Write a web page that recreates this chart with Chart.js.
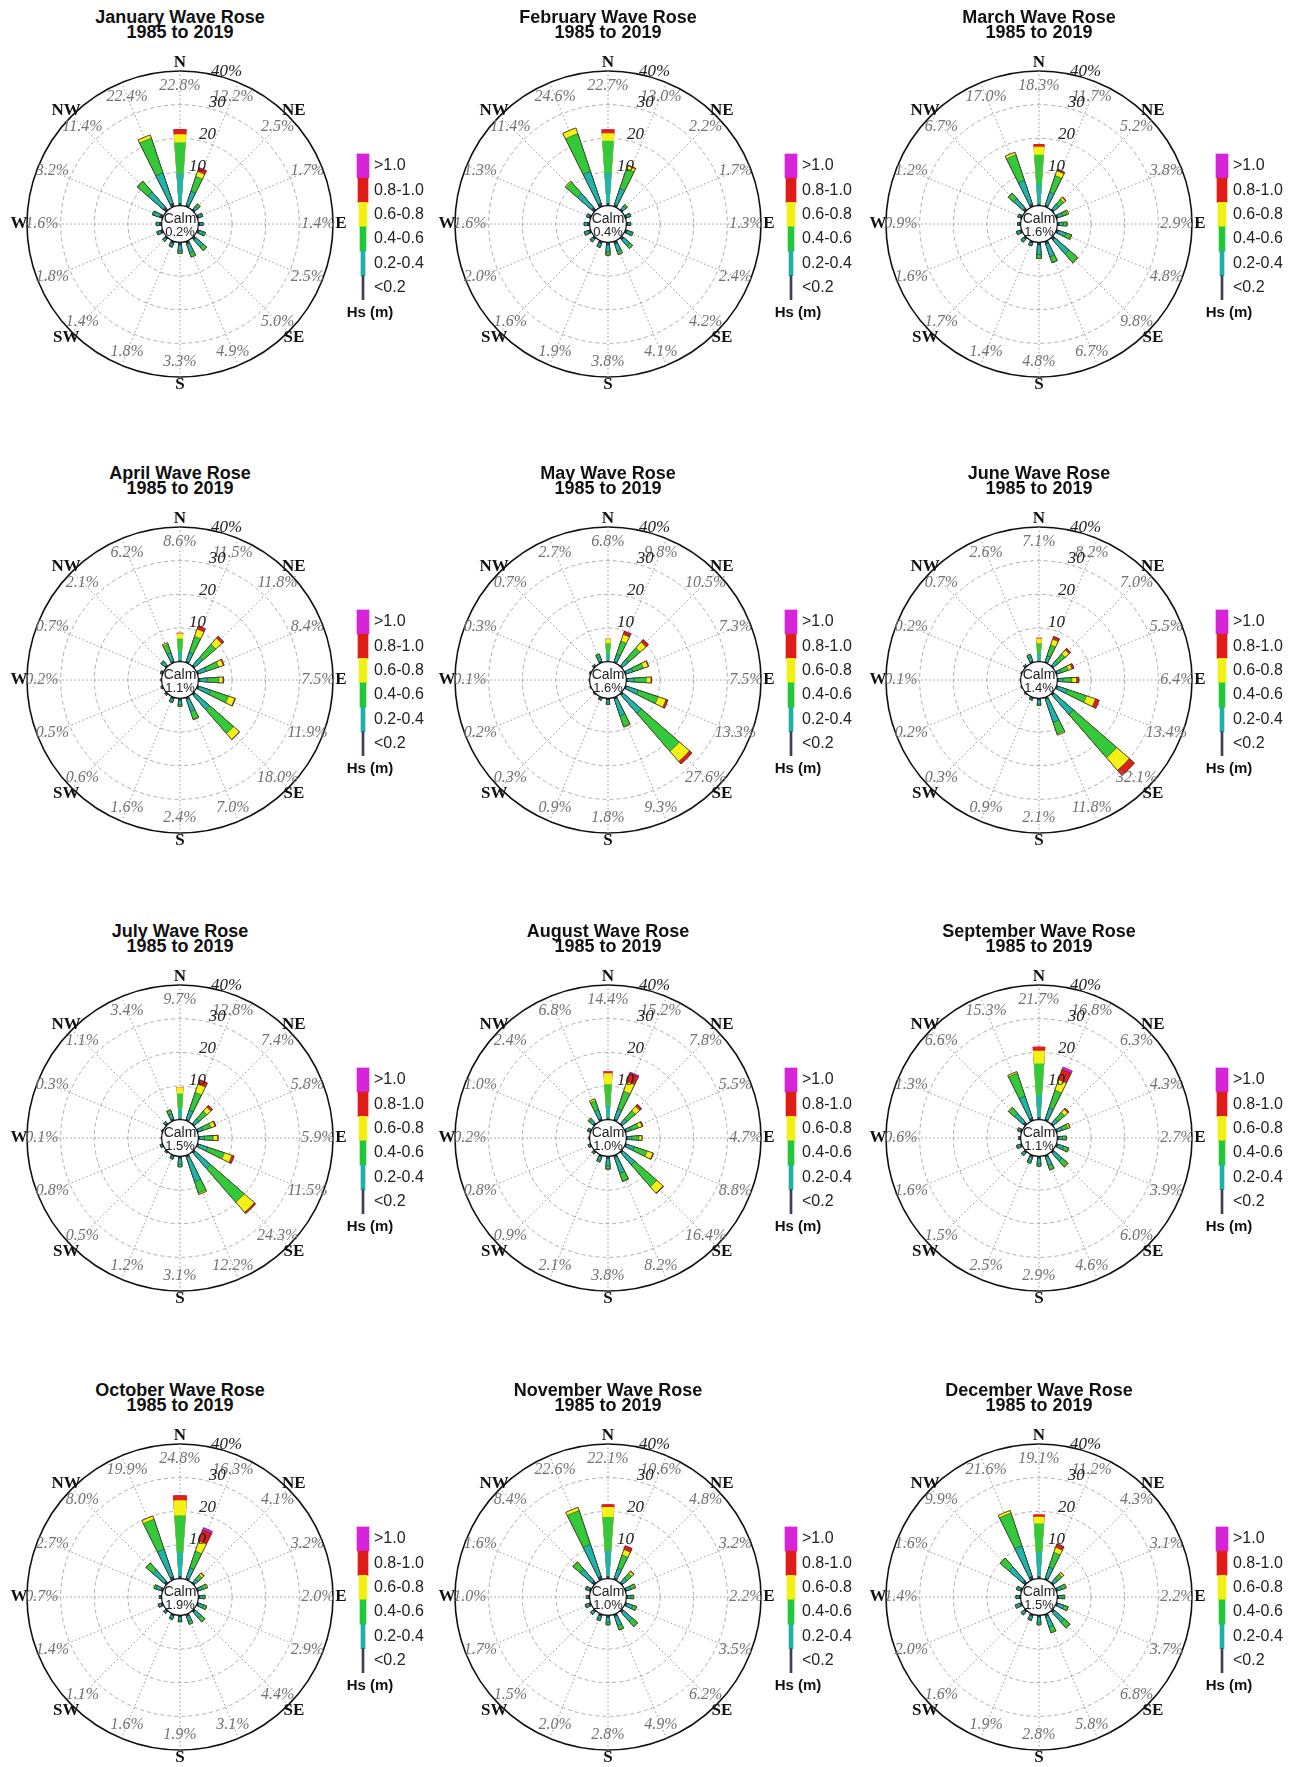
<!DOCTYPE html>
<html>
<head>
<meta charset="utf-8">
<script src="https://cdn.jsdelivr.net/npm/chart.js@4.4.1/dist/chart.umd.min.js"></script>
<style>
html,body{margin:0;padding:0;background:#fff;}
#page{position:relative;width:1299px;height:1767px;overflow:hidden;background:#fff;}
.panel{position:absolute;width:430px;height:456px;}
.title{position:absolute;left:0;top:10px;width:360px;text-align:center;font-family:"Liberation Sans",Arial,sans-serif;font-weight:bold;font-size:18px;line-height:15px;color:#111;}
.rose{position:absolute;left:0;top:45px;}
.cbar{position:absolute;left:345px;top:140px;}
</style>
</head>
<body>
<div id="page"></div>
<script>
// ---------------- data ----------------
const MONTHS = ['January','February','March','April','May','June','July','August','September','October','November','December'];
const PERIOD = '1985 to 2019';
const DIRECTIONS = ['N','NNE','NE','ENE','E','ESE','SE','SSE','S','SSW','SW','WSW','W','WNW','NW','NNW'];
const COMPASS = ['N','','NE','','E','','SE','','S','','SW','','W','','NW',''];
const HS_CLASSES = ['<0.2','0.2-0.4','0.4-0.6','0.6-0.8','0.8-1.0','>1.0'];
const HS_TITLE = 'Hs (m)';
const RING_TICKS = [10,20,30,40];
const CALM = [0.2,0.4,1.6,1.1,1.6,1.4,1.5,1.0,1.1,1.9,1.0,1.5];

// frequency (%) per Hs class (rows: <0.2 ... >1.0), per direction (N ... NNW)
const JAN_HS = [
 [0.8,0.6,0.5,0.5,0.5,0.6,0.8,0.8,0.8,0.7,0.6,0.7,0.7,0.9,1.2,1.0],
 [8.8,4.2,1.1,0.8,0.7,1.3,2.8,2.8,1.8,0.9,0.7,0.9,0.8,1.8,6.0,9.5],
 [9.2,4.6,0.7,0.4,0.2,0.6,1.4,1.3,0.7,0.2,0.1,0.2,0.1,0.5,4.0,10.9],
 [2.4,1.6,0.2,0,0,0,0,0,0,0,0,0,0,0,0.2,1.0],
 [1.6,1.2,0,0,0,0,0,0,0,0,0,0,0,0,0,0],
 [0,0,0,0,0,0,0,0,0,0,0,0,0,0,0,0]
];
const FEB_HS = [
 [0.8,0.6,0.5,0.5,0.5,0.6,0.8,0.8,0.8,0.7,0.6,0.7,0.7,0.6,1.0,1.0],
 [9.0,5.0,1.0,0.8,0.6,1.2,2.3,2.3,2.1,0.9,0.8,1.0,0.8,0.6,5.6,10.0],
 [9.5,6.2,0.6,0.4,0.2,0.6,1.1,1.0,0.9,0.3,0.2,0.3,0.1,0.1,4.4,11.8],
 [2.2,1.0,0.1,0,0,0,0,0,0,0,0,0,0,0,0.4,1.8],
 [1.2,0.2,0,0,0,0,0,0,0,0,0,0,0,0,0,0],
 [0,0,0,0,0,0,0,0,0,0,0,0,0,0,0,0]
];
const MAR_HS = [
 [0.6,0.5,0.5,0.5,0.5,0.6,0.9,0.8,0.8,0.6,0.6,0.6,0.4,0.5,0.8,0.8],
 [6.0,4.0,1.8,1.5,1.3,2.4,5.5,4.0,2.8,0.6,0.8,0.8,0.4,0.5,3.8,7.4],
 [8.5,5.2,2.0,1.4,0.9,1.6,3.2,1.8,1.2,0.2,0.3,0.2,0.1,0.2,2.0,8.0],
 [2.4,1.5,0.7,0.4,0.2,0.2,0.2,0.1,0,0,0,0,0,0,0.1,0.8],
 [0.8,0.5,0.2,0,0,0,0,0,0,0,0,0,0,0,0,0],
 [0,0,0,0,0,0,0,0,0,0,0,0,0,0,0,0]
];
const APR_HS = [
 [0.4,0.4,0.4,0.4,0.4,0.5,0.6,0.6,0.6,0.5,0.3,0.2,0.1,0.3,0.5,0.5],
 [2.5,2.8,3.0,2.4,2.2,3.6,5.6,3.8,1.3,0.8,0.3,0.3,0.1,0.3,1.1,2.6],
 [4.0,5.0,5.2,3.8,3.5,5.6,9.4,2.4,0.5,0.3,0,0,0,0.1,0.5,2.6],
 [1.5,2.3,2.4,1.5,1.2,2.0,2.3,0.2,0,0,0,0,0,0,0,0.5],
 [0.2,1.0,0.8,0.3,0.2,0.2,0.1,0,0,0,0,0,0,0,0,0],
 [0,0,0,0,0,0,0,0,0,0,0,0,0,0,0,0]
];
const MAY_HS = [
 [0.3,0.3,0.3,0.3,0.3,0.4,0.6,0.6,0.5,0.3,0.1,0.1,0.1,0.1,0.3,0.5],
 [2.0,2.2,2.4,2.0,2.1,3.6,7.0,5.2,0.9,0.4,0.2,0.1,0,0.2,0.3,1.3],
 [3.2,4.2,4.5,3.3,3.5,6.2,15.0,3.2,0.4,0.2,0,0,0,0,0.1,0.8],
 [1.2,2.1,2.3,1.5,1.4,2.5,4.0,0.3,0,0,0,0,0,0,0,0.1],
 [0.1,1.0,1.0,0.2,0.2,0.6,1.0,0,0,0,0,0,0,0,0,0],
 [0,0,0,0,0,0,0,0,0,0,0,0,0,0,0,0]
];
const JUN_HS = [
 [0.3,0.3,0.3,0.3,0.3,0.4,0.6,0.6,0.5,0.3,0.1,0.1,0.1,0.1,0.3,0.5],
 [2.0,1.8,1.6,1.2,1.4,3.0,7.5,7.2,1.2,0.4,0.2,0.1,0,0.1,0.3,1.3],
 [3.2,3.4,2.9,2.2,2.6,6.0,17.0,3.6,0.4,0.2,0,0,0,0,0.1,0.7],
 [1.4,1.8,1.6,1.2,1.4,2.8,5.0,0.4,0,0,0,0,0,0,0,0.1],
 [0.2,0.9,0.6,0.6,0.7,1.2,2.0,0,0,0,0,0,0,0,0,0],
 [0,0,0,0,0,0,0,0,0,0,0,0,0,0,0,0]
];
const JUL_HS = [
 [0.4,0.4,0.3,0.3,0.3,0.4,0.6,0.6,0.6,0.4,0.2,0.3,0.1,0.1,0.4,0.6],
 [2.6,2.8,1.8,1.4,1.5,2.8,6.0,7.6,1.8,0.6,0.3,0.4,0,0.2,0.5,1.6],
 [4.8,5.6,3.0,2.5,2.6,5.2,13.2,3.6,0.7,0.2,0,0.1,0,0,0.2,1.0],
 [1.8,2.6,1.6,1.3,1.3,2.4,4.0,0.4,0,0,0,0,0,0,0,0.2],
 [0.1,1.4,0.7,0.3,0.2,0.7,0.5,0,0,0,0,0,0,0,0,0],
 [0,0,0,0,0,0,0,0,0,0,0,0,0,0,0,0]
];
const AUG_HS = [
 [0.5,0.5,0.3,0.3,0.3,0.4,0.5,0.6,0.6,0.5,0.3,0.3,0.1,0.3,0.5,0.6],
 [3.6,3.2,1.8,1.4,1.3,2.4,4.6,5.0,2.2,1.1,0.4,0.4,0.1,0.5,1.2,2.8],
 [6.4,5.5,3.2,2.3,2.1,4.0,8.6,2.4,0.9,0.5,0.2,0.1,0,0.2,0.6,2.8],
 [3.3,3.0,1.7,1.2,0.9,1.8,2.5,0.2,0.1,0,0,0,0,0,0.1,0.6],
 [0.6,2.6,0.8,0.3,0.1,0.2,0.2,0,0,0,0,0,0,0,0,0],
 [0,0.4,0,0,0,0,0,0,0,0,0,0,0,0,0,0]
];
const SEP_HS = [
 [0.7,0.5,0.4,0.4,0.4,0.5,0.6,0.6,0.6,0.6,0.5,0.5,0.3,0.5,0.8,0.8],
 [6.5,3.5,1.6,1.4,1.1,1.8,3.0,2.6,1.6,1.4,0.8,0.8,0.3,0.6,3.4,6.8],
 [9.5,5.5,2.6,1.8,1.0,1.4,2.2,1.3,0.7,0.5,0.2,0.3,0,0.2,2.2,7.2],
 [3.8,3.3,1.3,0.6,0.2,0.2,0.2,0.1,0,0,0,0,0,0,0.2,0.5],
 [1.2,3.2,0.4,0.1,0,0,0,0,0,0,0,0,0,0,0,0],
 [0,0.8,0,0,0,0,0,0,0,0,0,0,0,0,0,0]
];
const OCT_HS = [
 [0.8,0.5,0.4,0.4,0.4,0.5,0.6,0.6,0.5,0.5,0.4,0.5,0.3,0.6,0.8,0.9],
 [7.0,3.2,1.2,1.2,0.9,1.4,2.3,1.7,1.0,0.8,0.5,0.7,0.3,1.5,4.4,8.6],
 [11.0,5.2,1.6,1.2,0.6,0.9,1.4,0.8,0.4,0.3,0.2,0.2,0.1,0.6,2.6,9.4],
 [4.5,3.2,0.7,0.4,0.1,0.1,0.1,0,0,0,0,0,0,0,0.2,1.0],
 [1.5,3.4,0.2,0,0,0,0,0,0,0,0,0,0,0,0,0],
 [0,0.8,0,0,0,0,0,0,0,0,0,0,0,0,0,0]
];
const NOV_HS = [
 [0.8,0.5,0.4,0.4,0.4,0.5,0.7,0.7,0.6,0.6,0.5,0.6,0.4,0.5,0.9,1.0],
 [7.5,3.0,1.6,1.3,1.0,1.8,3.4,2.8,1.6,1.0,0.8,0.8,0.5,0.8,4.6,10.0],
 [10.0,4.2,1.9,1.2,0.7,1.1,2.0,1.3,0.6,0.4,0.2,0.3,0.1,0.3,2.7,10.6],
 [3.0,1.7,0.7,0.3,0.1,0.1,0.1,0.1,0,0,0,0,0,0,0.2,1.0],
 [0.8,1.2,0.2,0,0,0,0,0,0,0,0,0,0,0,0,0],
 [0,0,0,0,0,0,0,0,0,0,0,0,0,0,0,0]
];
const DEC_HS = [
 [0.8,0.5,0.4,0.4,0.4,0.5,0.7,0.7,0.6,0.6,0.5,0.6,0.5,0.5,1.0,1.0],
 [7.0,3.4,1.5,1.3,1.0,1.9,3.8,3.3,1.6,1.0,0.8,1.0,0.7,0.8,5.4,9.6],
 [8.6,4.6,1.7,1.1,0.7,1.2,2.2,1.7,0.6,0.3,0.3,0.4,0.2,0.3,3.3,10.2],
 [2.0,1.6,0.6,0.3,0.1,0.1,0.1,0.1,0,0,0,0,0,0,0.2,0.8],
 [0.7,1.1,0.1,0,0,0,0,0,0,0,0,0,0,0,0,0],
 [0,0,0,0,0,0,0,0,0,0,0,0,0,0,0,0]
];
const MONTH_HS = [JAN_HS,FEB_HS,MAR_HS,APR_HS,MAY_HS,JUN_HS,JUL_HS,AUG_HS,SEP_HS,OCT_HS,NOV_HS,DEC_HS];

// ---------------- styles / layout ----------------
const ROSE_COLORS = ['#2c3d5e','#22b4aa','#34c93a','#f2f214','#de2118','#e61fe6'];
const CB_COLORS   = ['#3c3f55','#1fb0a8','#22c83a','#f0f014','#e01c18','#d624d8'];
const CB_THICK    = [2,4,6,8,10,12];
const PANEL_LEFT = [0,428,859];
const PANEL_TOP  = [0,456,914,1373];
const WEDGE = 8;                       // wedge width in degrees
const SECTOR = 360 / DIRECTIONS.length;
const CALM_MIN = -5.45;                // radial offset so 0% sits on the calm circle
const RING_LABEL_ANGLE = 17;           // degrees from north
const N_ELEM = 2 * DIRECTIONS.length + 1;

// element i -> direction index (-1 = gap). N is split in two halves (first and last element)
function elementDir(i){
  if (i === 0 || i === N_ELEM - 1) return 0;
  return i % 2 === 0 ? i / 2 : -1;
}
const ELEM_ANGLE = Array.from({length:N_ELEM}, (_, i) =>
  (i === 0 || i === N_ELEM - 1) ? WEDGE / 2 : (i % 2 === 0 ? WEDGE : SECTOR - WEDGE));

function cumulative(hs){
  const out = [];
  let run = DIRECTIONS.map(() => 0);
  hs.forEach(row => { run = run.map((v, d) => v + row[d]); out.push(run.slice()); });
  return out;
}
function expand(vals){
  return Array.from({length:N_ELEM}, (_, i) => { const d = elementDir(i); return d < 0 ? 0 : vals[d]; });
}

function overlayPlugin(totals, calm){
  return {
    id: 'roseOverlay',
    afterDatasetsDraw(chart){
      const s = chart.scales.r, ctx = chart.ctx;
      const R = s.drawingArea, cx = s.xCenter, cy = s.yCenter;
      ctx.save();
      ctx.textAlign = 'center';
      ctx.textBaseline = 'middle';
      // total percentage per direction
      ctx.font = 'italic 16px "Liberation Serif", "Times New Roman", serif';
      ctx.fillStyle = '#727272';
      totals.forEach((t, i) => {
        const p = s.getPointPosition(i, R - 15);
        ctx.fillText(t.toFixed(1) + '%', p.x, p.y);
      });
      // ring labels
      ctx.font = 'italic 17px "Liberation Serif", "Times New Roman", serif';
      ctx.fillStyle = '#222';
      RING_TICKS.forEach(v => {
        const p = s.getPointPosition(RING_LABEL_ANGLE / SECTOR, s.getDistanceFromCenterForValue(v) + (v === 40 ? 6 : 8));
        ctx.fillText(v === 40 ? v + '%' : String(v), p.x, p.y);
      });
      // compass letters
      ctx.font = 'bold 17px "Liberation Serif", "Times New Roman", serif';
      ctx.fillStyle = '#111';
      COMPASS.forEach((c, i) => {
        if (!c) return;
        const p = s.getPointPosition(i, R + 8);
        ctx.fillText(c, p.x, p.y);
      });
      // calm circle
      const r0 = s.getDistanceFromCenterForValue(0);
      ctx.beginPath();
      ctx.arc(cx, cy, r0, 0, Math.PI * 2);
      ctx.fillStyle = '#fff';
      ctx.fill();
      ctx.lineWidth = 1.2;
      ctx.strokeStyle = '#111';
      ctx.stroke();
      ctx.fillStyle = '#222';
      ctx.font = '14px "Liberation Sans", Arial, sans-serif';
      ctx.fillText('Calm', cx, cy - 5);
      ctx.font = '13px "Liberation Sans", Arial, sans-serif';
      ctx.fillText(calm.toFixed(1) + '%', cx, cy + 8);
      ctx.restore();
    }
  };
}

const cbTitlePlugin = {
  id: 'cbTitle',
  afterDraw(chart){
    const a = chart.chartArea, ctx = chart.ctx;
    ctx.save();
    ctx.font = 'bold 15px "Liberation Sans", Arial, sans-serif';
    ctx.fillStyle = '#111';
    ctx.textAlign = 'center';
    ctx.textBaseline = 'middle';
    ctx.fillText(HS_TITLE, (a.left + a.right) / 2 + 7, a.bottom + 13);
    ctx.restore();
  }
};

const page = document.getElementById('page');

MONTHS.forEach((name, m) => {
  const panel = document.createElement('div');
  panel.className = 'panel';
  panel.style.left = PANEL_LEFT[m % 3] + 'px';
  panel.style.top = PANEL_TOP[Math.floor(m / 3)] + 'px';
  page.appendChild(panel);

  const title = document.createElement('div');
  title.className = 'title';
  title.innerHTML = name + ' Wave Rose<br>' + PERIOD;
  panel.appendChild(title);

  const roseCanvas = document.createElement('canvas');
  roseCanvas.className = 'rose';
  roseCanvas.width = 360; roseCanvas.height = 365;
  panel.appendChild(roseCanvas);

  const cbCanvas = document.createElement('canvas');
  cbCanvas.className = 'cbar';
  cbCanvas.width = 85; cbCanvas.height = 186;
  panel.appendChild(cbCanvas);

  const hs = MONTH_HS[m];
  const cum = cumulative(hs);
  const totals = cum[cum.length - 1];

  new Chart(roseCanvas, {
    type: 'polarArea',
    data: {
      labels: DIRECTIONS,
      datasets: cum.map((vals, k) => ({
        label: HS_CLASSES[k],
        data: expand(vals),
        angle: ELEM_ANGLE,
        backgroundColor: (c) => elementDir(c.dataIndex) < 0 ? 'rgba(0,0,0,0)' : ROSE_COLORS[k],
        borderColor: 'rgba(25,25,25,0.8)',
        borderWidth: (c) => (c.dataIndex % 2 === 1 || c.dataIndex === 0 || c.dataIndex === N_ELEM - 1) ? 0 : 0.6
      }))
    },
    options: {
      responsive: false,
      animation: false,
      layout: {padding: {left: 27, right: 27, top: 26, bottom: 33}},
      plugins: {legend: {display: false}, tooltip: {enabled: false}},
      scales: {
        r: {
          min: CALM_MIN,
          max: 40,
          startAngle: 0,
          ticks: {display: false},
          afterBuildTicks: (s) => { s.ticks = RING_TICKS.map(v => ({value: v})); },
          grid: {
            circular: true,
            color: (c) => (c.tick && c.tick.value === 40) ? '#111' : '#a5a5a5',
            lineWidth: (c) => (c.tick && c.tick.value === 40) ? 1.6 : 0.9
          },
          border: {dash: (c) => (c.tick && c.tick.value === 40) ? [] : [4, 3]},
          angleLines: {display: true, color: '#8c8c8c', lineWidth: 0.9, borderDash: [1.5, 2.5]},
          pointLabels: {display: false}
        }
      }
    },
    plugins: [overlayPlugin(totals, CALM[m])]
  });

  new Chart(cbCanvas, {
    type: 'bar',
    data: {
      labels: ['Hs'],
      datasets: HS_CLASSES.map((lab, k) => ({
        label: lab,
        data: [1],
        backgroundColor: CB_COLORS[k],
        barThickness: CB_THICK[k],
        borderWidth: 0
      }))
    },
    options: {
      responsive: false,
      animation: false,
      layout: {padding: {left: 11, right: 0, top: 9, bottom: 0}},
      plugins: {legend: {display: false}, tooltip: {enabled: false}},
      scales: {
        x: {
          stacked: true,
          grid: {display: false, drawTicks: false},
          border: {display: false},
          ticks: {display: false},
          afterFit: (a) => { a.height = 26; }
        },
        y: {
          stacked: true,
          position: 'right',
          min: 0,
          max: HS_CLASSES.length,
          grid: {display: false, drawTicks: false},
          border: {display: false},
          afterBuildTicks: (a) => { a.ticks = HS_CLASSES.map((_, k) => ({value: k + 0.5})); },
          ticks: {
            autoSkip: false,
            padding: 4,
            color: '#222',
            font: {family: '"Liberation Sans", Arial, sans-serif', size: 16},
            callback: (v) => HS_CLASSES[Math.floor(v)]
          },
          afterFit: (a) => { a.width = 60; }
        }
      }
    },
    plugins: [cbTitlePlugin]
  });
});
</script>
</body>
</html>
